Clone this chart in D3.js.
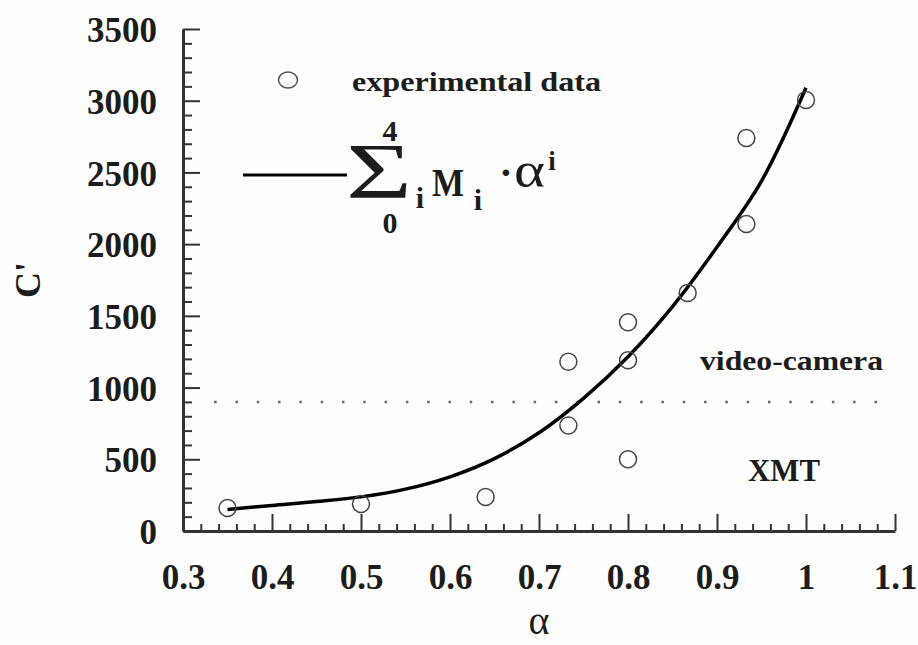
<!DOCTYPE html>
<html>
<head>
<meta charset="utf-8">
<script src="https://cdn.jsdelivr.net/npm/d3@7"></script>
<style>
  html, body { margin: 0; padding: 0; background: #fefefe; }
  svg { display: block; }
  text { font-family: "Liberation Serif", "Times New Roman", serif; fill: #1c1c1c; }
</style>
</head>
<body>
<svg id="chart" width="918" height="645"></svg>
<script>
// measured points (alpha, C')
const expAlpha = [0.35, 0.5, 0.64, 0.733, 0.733, 0.8, 0.8, 0.8, 0.867, 0.933, 0.933, 1.0];
const expC     = [160, 188, 237, 735, 1180, 1190, 500, 1455, 1660, 2140, 2740, 3005];

// fitted curve
const fitAlpha = [0.35, 0.40, 0.45, 0.50, 0.55, 0.60, 0.65, 0.70, 0.75, 0.80, 0.85, 0.90, 0.95, 1.00];
const fitC     = [150, 178, 205, 238, 292, 378, 505, 685, 925, 1215, 1565, 1980, 2440, 3090];

// detector limit line
const limitC = 900;
const limitAlpha = [0.335, 1.085];

const xMajor = [0.3, 0.4, 0.5, 0.6, 0.7, 0.8, 0.9, 1, 1.1];
const xMajorLabels = ["0.3", "0.4", "0.5", "0.6", "0.7", "0.8", "0.9", "1", "1.1"];
const yMajor = [0, 500, 1000, 1500, 2000, 2500, 3000, 3500];

const svg = d3.select("#chart");

const x = d3.scaleLinear().domain([0.3, 1.1]).range([183, 895]);
const y = d3.scaleLinear().domain([0, 3500]).range([531, 29]);

const xMinor = d3.range(0.3, 1.1001, 0.02).filter(v => !xMajor.some(m => Math.abs(m - v) < 1e-6));
const yMinor = d3.range(0, 3501, 100).filter(v => v % 500 !== 0);

// minor ticks
svg.append("g")
  .attr("transform", "translate(0,531)")
  .call(d3.axisBottom(x).tickValues(xMinor).tickSize(-7).tickFormat(""))
  .call(g => g.select(".domain").remove())
  .call(g => g.selectAll("line").attr("stroke", "#333").attr("stroke-width", 2));

svg.append("g")
  .attr("transform", "translate(183,0)")
  .call(d3.axisLeft(y).tickValues(yMinor).tickSize(-9).tickFormat(""))
  .call(g => g.select(".domain").remove())
  .call(g => g.selectAll("line").attr("stroke", "#333").attr("stroke-width", 2));

// major ticks + labels
const xAxis = svg.append("g")
  .attr("transform", "translate(0,531)")
  .call(d3.axisBottom(x).tickValues(xMajor).tickSize(-17).tickSizeOuter(0).tickPadding(33)
    .tickFormat((d, i) => xMajorLabels[i]));

const yAxis = svg.append("g")
  .attr("transform", "translate(183,0)")
  .call(d3.axisLeft(y).tickValues(yMajor).tickSize(-17).tickSizeOuter(0).tickPadding(26)
    .tickFormat(d3.format("d")));

[xAxis, yAxis].forEach(g => {
  g.select(".domain").attr("stroke", "#333").attr("stroke-width", 3);
  g.selectAll(".tick line").attr("stroke", "#333").attr("stroke-width", 2);
  g.selectAll(".tick text")
    .attr("fill", "#1c1c1c")
    .style("font-family", "'Liberation Serif', serif")
    .style("font-weight", "bold")
    .style("font-size", "35px");
});
yAxis.selectAll(".tick text").attr("dy", "0.36em");

// axis titles
svg.append("text")
  .attr("transform", "translate(40,280) rotate(-90)")
  .attr("text-anchor", "middle")
  .style("font-weight", "bold")
  .style("font-size", "36px")
  .text("C'");

svg.append("text")
  .attr("x", 539).attr("y", 634)
  .attr("text-anchor", "middle")
  .style("font-size", "40px")
  .text("α");

// dotted threshold
svg.append("line")
  .attr("x1", x(limitAlpha[0])).attr("x2", x(limitAlpha[1]))
  .attr("y1", y(limitC)).attr("y2", y(limitC))
  .attr("stroke", "#666")
  .attr("stroke-width", 2.5)
  .attr("stroke-dasharray", "2.5 18.8");

// fit curve
const fit = fitAlpha.map((a, i) => ({ a, c: fitC[i] }));
svg.append("path")
  .datum(fit)
  .attr("fill", "none")
  .attr("stroke", "#000")
  .attr("stroke-width", 3.5)
  .attr("d", d3.line().x(d => x(d.a)).y(d => y(d.c)).curve(d3.curveCatmullRom));

// experimental circles
const pts = expAlpha.map((a, i) => ({ a, c: expC[i] }));
svg.append("g").selectAll("circle")
  .data(pts)
  .join("circle")
  .attr("cx", d => x(d.a))
  .attr("cy", d => y(d.c))
  .attr("r", 8.5)
  .attr("fill", "none")
  .attr("stroke", "#444")
  .attr("stroke-width", 1.5);

// region labels
svg.append("text")
  .attr("x", 700).attr("y", 370)
  .attr("textLength", 183).attr("lengthAdjust", "spacingAndGlyphs")
  .style("font-weight", "bold").style("font-size", "27px")
  .text("video-camera");

svg.append("text")
  .attr("x", 748).attr("y", 481)
  .attr("textLength", 72).attr("lengthAdjust", "spacingAndGlyphs")
  .style("font-weight", "bold").style("font-size", "31px")
  .text("XMT");

// legend
const leg = svg.append("g");
leg.append("ellipse")
  .attr("cx", 288).attr("cy", 80).attr("rx", 9.5).attr("ry", 8)
  .attr("fill", "none").attr("stroke", "#555").attr("stroke-width", 1.5);
leg.append("text")
  .attr("x", 352).attr("y", 91)
  .attr("textLength", 249).attr("lengthAdjust", "spacingAndGlyphs")
  .style("font-weight", "bold").style("font-size", "27px")
  .text("experimental data");

leg.append("line")
  .attr("x1", 243).attr("x2", 347).attr("y1", 175).attr("y2", 175)
  .attr("stroke", "#000").attr("stroke-width", 3);

const formula = [
  { t: "Σ", x: 346, y: 197, size: 78, bold: false, anchor: "start", len: 66 },
  { t: "4", x: 390, y: 141, size: 30, bold: true, anchor: "middle" },
  { t: "0", x: 390, y: 233, size: 30, bold: true, anchor: "middle" },
  { t: "i", x: 420, y: 208, size: 30, bold: true, anchor: "middle" },
  { t: "M", x: 432, y: 196, size: 40, bold: true, anchor: "start", len: 32 },
  { t: "i", x: 478, y: 210, size: 30, bold: true, anchor: "middle" },
  { t: "·", x: 506, y: 186, size: 40, bold: true, anchor: "middle" },
  { t: "α", x: 514, y: 187, size: 50, bold: false, anchor: "start", len: 31 },
  { t: "i", x: 552, y: 170, size: 27, bold: true, anchor: "middle" }
];
leg.selectAll("text.f")
  .data(formula)
  .join("text")
  .attr("class", "f")
  .attr("x", d => d.x).attr("y", d => d.y)
  .attr("text-anchor", d => d.anchor)
  .attr("textLength", d => d.len || null)
  .attr("lengthAdjust", d => d.len ? "spacingAndGlyphs" : null)
  .style("font-size", d => d.size + "px")
  .style("font-weight", d => d.bold ? "bold" : "normal")
  .text(d => d.t);
</script>
</body>
</html>
